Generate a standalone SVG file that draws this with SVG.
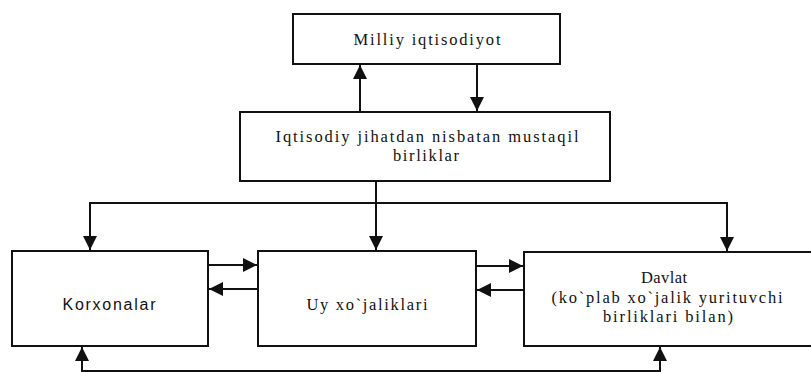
<svg xmlns="http://www.w3.org/2000/svg" width="811" height="372" viewBox="0 0 811 372">
<style>
.box{fill:#fff;stroke:#111;stroke-width:2}
.ln{fill:none;stroke:#111;stroke-width:2}
.t{font-family:"Liberation Serif","Times New Roman",serif;font-size:16.5px;fill:#111;text-anchor:middle}
.s{font-family:"Liberation Sans",Arial,sans-serif;font-size:16px;fill:#111;text-anchor:middle}
</style>
<defs>
<marker id="ah" viewBox="0 0 10 10" refX="10" refY="5" markerWidth="7" markerHeight="7" markerUnits="strokeWidth" orient="auto">
<path d="M0,0 L10,5 L0,10 z" fill="#111"/>
</marker>
</defs>
<rect width="811" height="372" fill="#fff"/>
<g id="connectors">
<line class="ln" x1="360" y1="112" x2="360" y2="65" marker-end="url(#ah)"/>
<line class="ln" x1="477" y1="64" x2="477" y2="111" marker-end="url(#ah)"/>
<line class="ln" x1="376" y1="181" x2="376" y2="250" marker-end="url(#ah)"/>
<polyline class="ln" points="90,250 90,203 727,203 727,251" marker-end="url(#ah)"/>
<line class="ln" x1="90" y1="203" x2="90" y2="250" marker-end="url(#ah)"/>
<line class="ln" x1="208" y1="265" x2="257" y2="265" marker-end="url(#ah)"/>
<line class="ln" x1="258" y1="289" x2="209" y2="289" marker-end="url(#ah)"/>
<line class="ln" x1="476" y1="266" x2="523" y2="266" marker-end="url(#ah)"/>
<line class="ln" x1="524" y1="290" x2="477" y2="290" marker-end="url(#ah)"/>
<polyline class="ln" points="82,347 82,371 660,371 660,347" marker-end="url(#ah)"/>
<line class="ln" x1="82" y1="371" x2="82" y2="347" marker-end="url(#ah)"/>
</g>
<g id="milliy">
<rect class="box" x="293" y="14" width="267" height="50"/>
<text class="t" x="427" y="45" textLength="147" lengthAdjust="spacing">Milliy iqtisodiyot</text>
</g>
<g id="birliklar">
<rect class="box" x="240" y="112" width="370" height="69"/>
<text class="t" x="427" y="142" textLength="303" lengthAdjust="spacing">Iqtisodiy jihatdan nisbatan mustaqil</text>
<text class="t" x="426" y="161" textLength="66" lengthAdjust="spacing">birliklar</text>
</g>
<g id="korxonalar">
<rect class="box" x="12" y="251" width="196" height="95"/>
<text class="s" x="109" y="310" textLength="93" lengthAdjust="spacing">Korxonalar</text>
</g>
<g id="uy">
<rect class="box" x="258" y="251" width="218" height="95"/>
<text class="t" x="367" y="310" textLength="121" lengthAdjust="spacing">Uy xo`jaliklari</text>
</g>
<g id="davlat">
<rect class="box" x="524" y="252" width="300" height="94"/>
<text class="t" x="664" y="283" textLength="46" lengthAdjust="spacing">Davlat</text>
<text class="t" x="667" y="303" textLength="231" lengthAdjust="spacing">(ko`plab xo`jalik yurituvchi</text>
<text class="t" x="668" y="322" textLength="130" lengthAdjust="spacing">birliklari bilan)</text>
</g>
</svg>
